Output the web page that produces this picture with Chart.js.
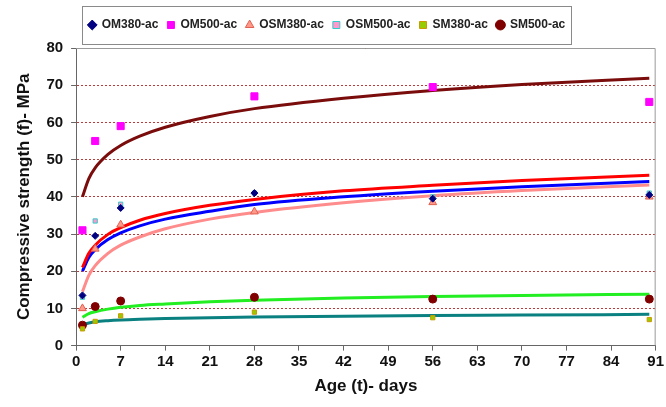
<!DOCTYPE html>
<html>
<head>
<meta charset="utf-8">
<script src="https://cdn.jsdelivr.net/npm/chart.js@4/dist/chart.umd.min.js"></script>
<style>
  html, body { margin: 0; padding: 0; background: #fff; }
  #wrap { width: 666px; height: 407px; }
</style>
</head>
<body>
<div id="wrap"><canvas id="strengthChart"></canvas></div>
<script>
// measured ages (days)
const ages = [1, 3, 7, 28, 56, 90];

// measured strengths (MPa)
const om380 = [13.5, 29.5, 37, 41, 39.5, 40.5];
const om500 = [31, 55, 59, 67, 69.5, 65.5];
const osm380 = [10, 26, 32.5, 36, 38.5, 40];
const osm500 = [13, 33.5, 38, 41, 40, 41];
const sm380 = [4.5, 6.5, 8, 9, 7.5, 7];
const sm500 = [5.5, 10.5, 12, 13, 12.5, 12.5];

// trend curves
const trendAges = [1, 2, 3, 5, 7, 10, 14, 21, 28, 42, 56, 70, 90];
const trendOm500 = [40, 44.9, 47.8, 51.4, 53.8, 56.3, 58.7, 61.6, 63.7, 66.5, 68.6, 70.2, 71.9];
const trendOsm500 = [21, 24.8, 27, 29.9, 31.7, 33.7, 35.5, 37.7, 39.3, 41.6, 43.1, 44.4, 45.8];
const trendOm380 = [20, 23.7, 25.8, 28.5, 30.3, 32.2, 34, 36.1, 37.9, 40, 41.5, 42.7, 44.1];
const trendOsm380 = [14.5, 18.9, 21.5, 24.8, 27, 29.2, 31.4, 34, 35.8, 38.4, 40.3, 41.7, 43.2];
const trendSm500 = [7.6, 8.6, 9.1, 9.8, 10.3, 10.8, 11.2, 11.8, 12.2, 12.8, 13.2, 13.5, 13.8];
const trendSm380 = [5.7, 6.1, 6.4, 6.7, 6.9, 7.1, 7.3, 7.5, 7.7, 7.9, 8.1, 8.2, 8.4];

const xTicks = [0, 7, 14, 21, 28, 35, 42, 49, 56, 63, 70, 77, 84, 91];

const FONT = "'Liberation Sans', Arial, sans-serif";
const LEGEND_SHIFT = -8;

function pts(xs, ys) {
  return xs.map((x, i) => ({ x: x, y: ys[i] }));
}

function scatter(label, data, style, color, border, radius) {
  return {
    type: "scatter",
    label: label,
    data: pts(ages, data),
    pointStyle: style,
    backgroundColor: color,
    borderColor: border,
    borderWidth: 1,
    pointRadius: radius,
    pointHoverRadius: radius,
    order: 1,
  };
}

function trend(data, color) {
  return {
    type: "line",
    label: "trend",
    data: pts(trendAges, data),
    borderColor: color,
    borderWidth: 3,
    pointRadius: 0,
    fill: false,
    cubicInterpolationMode: "monotone",
    order: 2,
  };
}

// gray frame round the plot and round the legend
const framePlugin = {
  id: "frame",
  beforeInit(chart) {
    const lg = chart.legend;
    // a bit more room under the legend box
    const fit = lg.fit;
    lg.fit = function () {
      fit.call(this);
      this.height += 7;
    };
    // legend sits slightly left of centre in the original
    const draw = lg.draw;
    lg.draw = function () {
      const ctx = this.ctx;
      ctx.save();
      ctx.translate(LEGEND_SHIFT, 0);
      draw.apply(this, arguments);
      ctx.restore();
    };
  },
  afterDraw(chart) {
    const ctx = chart.ctx;
    const a = chart.chartArea;
    ctx.save();
    ctx.strokeStyle = "#9a9a9a";
    ctx.lineWidth = 1;
    ctx.beginPath();
    ctx.moveTo(a.left, a.top + 0.5);
    ctx.lineTo(a.right - 0.5, a.top + 0.5);
    ctx.lineTo(a.right - 0.5, a.bottom);
    ctx.stroke();

    const boxes = chart.legend.legendHitBoxes;
    if (boxes && boxes.length) {
      let l = Infinity, r = -Infinity, t = Infinity, b = -Infinity;
      boxes.forEach(h => {
        l = Math.min(l, h.left); r = Math.max(r, h.left + h.width);
        t = Math.min(t, h.top); b = Math.max(b, h.top + h.height);
      });
      ctx.strokeStyle = "#8a8a8a";
      ctx.strokeRect(Math.round(l - 7 + LEGEND_SHIFT) + 0.5, Math.round(t - 13) + 0.5,
        Math.round(r - l + 12), Math.round(b - t + 26));
    }
    ctx.restore();
  }
};

new Chart(document.getElementById("strengthChart"), {
  data: {
    datasets: [
      scatter("OM380-ac", om380, "rectRot", "#000080", "#000080", 3.5),
      scatter("OM500-ac", om500, "rect", "#ff00ff", "#ff00ff", 5),
      scatter("OSM380-ac", osm380, "triangle", "#ff9a8a", "#e06050", 4.5),
      scatter("OSM500-ac", osm500, "rect", "#ff99cc", "#33cccc", 3),
      scatter("SM380-ac", sm380, "rect", "#99cc00", "#cc9900", 3),
      scatter("SM500-ac", sm500, "circle", "#800000", "#800000", 4),
      trend(trendOm500, "#7a0c0c"),
      trend(trendOsm500, "#ff0000"),
      trend(trendOm380, "#0000ff"),
      trend(trendOsm380, "#ff8c8c"),
      trend(trendSm500, "#22ee22"),
      trend(trendSm380, "#0a8080"),
    ],
  },
  options: {
    responsive: true,
    maintainAspectRatio: false,
    animation: false,
    layout: { padding: { left: 10, right: 6, top: 10, bottom: 6 } },
    plugins: {
      tooltip: { enabled: false },
      legend: {
        position: "top",
        labels: {
          filter: item => item.text !== "trend",
          usePointStyle: true,
          boxWidth: 7,
          boxHeight: 7,
          padding: 9,
          color: "#222",
          font: { family: FONT, size: 12, weight: "bold" },
        },
      },
    },
    scales: {
      x: {
        type: "linear",
        min: 0,
        max: 91,
        afterBuildTicks: axis => { axis.ticks = xTicks.map(v => ({ value: v })); },
        grid: { drawOnChartArea: false, drawTicks: true, tickLength: 5, color: "#666" },
        border: { color: "#666", width: 1 },
        ticks: {
          color: "#111",
          padding: 2,
          maxRotation: 0,
          font: { family: FONT, size: 15, weight: "bold" },
        },
        title: {
          display: true,
          text: "Age (t)- days",
          color: "#111",
          padding: { top: 4 },
          font: { family: FONT, size: 17, weight: "bold" },
        },
      },
      y: {
        min: 0,
        max: 80,
        ticks: {
          stepSize: 10,
          color: "#111",
          padding: 8,
          font: { family: FONT, size: 15, weight: "bold" },
        },
        grid: {
          color: ctx => (ctx.tick && ctx.tick.value === 0) ? "rgba(0,0,0,0)" : "#b83c3c",
          tickColor: "#666",
          tickLength: 5,
          tickBorderDash: [],
        },
        border: { color: "#666", width: 1, dash: [2, 2] },
        title: {
          display: true,
          text: "Compressive strength (f)- MPa",
          color: "#111",
          padding: { bottom: 4 },
          font: { family: FONT, size: 17, weight: "bold" },
        },
      },
    },
  },
  plugins: [framePlugin],
});
</script>
</body>
</html>
